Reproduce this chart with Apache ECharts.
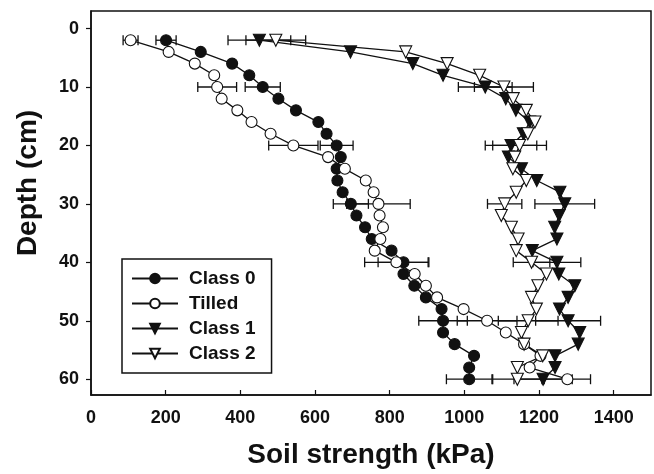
<!DOCTYPE html>
<html>
<head>
<meta charset="utf-8">
<script src="https://cdn.jsdelivr.net/npm/echarts@6/dist/echarts.min.js"></script>
<style>
html,body{margin:0;padding:0;background:#fff;}
#chart{width:654px;height:474px;}
</style>
</head>
<body>
<div id="chart"></div>
<script>
// Depth (cm) of each measurement
const depths = [2,4,6,8,10,12,14,16,18,20,22,24,26,28,30,32,34,36,38,40,42,44,46,48,50,52,54,56,58,60];
// Soil strength (kPa)
const class0 = [201,294,378,424,460,502,549,609,631,658,669,658,660,674,696,711,734,752,805,837,837,866,897,939,943,943,974,1026,1013,1013];
const tilled = [106,208,278,330,338,350,392,430,481,542,635,680,736,757,770,773,782,775,760,818,867,897,927,998,1061,1111,1160,1204,1175,1276];
const class1 = [451,695,862,943,1056,1111,1138,1175,1158,1125,1118,1153,1194,1256,1269,1254,1242,1248,1182,1248,1253,1296,1278,1255,1278,1309,1305,1243,1243,1211];
const class2 = [495,843,954,1041,1106,1131,1166,1189,1170,1148,1135,1130,1166,1139,1108,1099,1126,1144,1139,1180,1220,1197,1180,1193,1171,1153,1160,1210,1142,1142];
// Error bars (half widths, kPa) at these depths
const errDepths = [2,10,20,30,40,50,60];
const class0Err = [27,47,44,47,68,65,61];
const tilledErr = [20,52,66,85,85,80,62];
const class1Err = [84,72,69,80,64,87,78];
const class2Err = [80,79,72,46,49,80,66];
// Axis ticks
const xTicks = [0,200,400,600,800,1000,1200,1400];
const yTicks = [0,10,20,30,40,50,60];

const FONT = "'Liberation Sans', Arial, Helvetica, sans-serif";
const INK = '#111';

function pts(vals){ return vals.map((v,i)=>[v, depths[i]]); }
function errs(vals, e){ return errDepths.map((d,i)=>[vals[depths.indexOf(d)], d, e[i]]); }

function errSeries(vals, e){
  return {
    type: 'custom',
    data: errs(vals, e),
    z: 1,
    silent: true,
    renderItem: function(params, api){
      const c = api.value(0), d = api.value(1), h = api.value(2);
      const p1 = api.coord([c - h, d]);
      const p2 = api.coord([c + h, d]);
      const cap = 5;
      const st = {stroke: INK, lineWidth: 1.3};
      return {type:'group', children:[
        {type:'line', shape:{x1:p1[0],y1:p1[1],x2:p2[0],y2:p2[1]}, style:st},
        {type:'line', shape:{x1:p1[0],y1:p1[1]-cap,x2:p1[0],y2:p1[1]+cap}, style:st},
        {type:'line', shape:{x1:p2[0],y1:p2[1]-cap,x2:p2[0],y2:p2[1]+cap}, style:st}
      ]};
    }
  };
}

function lineSeries(name, vals, symbol, filled, size){
  return {
    name: name,
    type: 'line',
    data: pts(vals),
    z: 3,
    symbol: symbol,
    symbolSize: size,
    symbolRotate: symbol === 'triangle' ? 180 : 0,
    showAllSymbol: true,
    lineStyle: {color: INK, width: 1.3},
    itemStyle: {color: filled ? INK : '#fff', borderColor: INK, borderWidth: 1.1},
    emphasis: {disabled: true},
    animation: false
  };
}

const chart = echarts.init(document.getElementById('chart'), null, {renderer: 'canvas'});
chart.setOption({
  animation: false,
  backgroundColor: '#fff',
  grid: {left: 91, right: 3, top: 11, bottom: 78, show: true, borderColor: INK, borderWidth: 1.5, backgroundColor: 'transparent'},
  xAxis: {
    type: 'value', min: 0, max: 1500,
    name: 'Soil strength (kPa)', nameLocation: 'middle', nameGap: 46,
    nameTextStyle: {fontFamily: FONT, fontWeight: 'bold', fontSize: 28, color: INK},
    axisLine: {show: true, onZero: false, lineStyle: {color: INK, width: 1.5}},
    axisTick: {show: true, inside: true, length: 5, lineStyle: {color: INK, width: 1.2}, customValues: xTicks},
    axisLabel: {fontFamily: FONT, fontWeight: 'bold', fontSize: 18, color: INK, margin: 14, customValues: xTicks,
      formatter: function(v){ return String(v); }},
    splitLine: {show: false}
  },
  yAxis: {
    type: 'value', min: -3, max: 62.7, inverse: true,
    name: 'Depth (cm)', nameLocation: 'middle', nameGap: 49,
    nameTextStyle: {fontFamily: FONT, fontWeight: 'bold', fontSize: 28, color: INK, padding: [0,0,0,40]},
    axisLine: {show: true, onZero: false, lineStyle: {color: INK, width: 1.5}},
    axisTick: {show: true, inside: false, length: 5, lineStyle: {color: INK, width: 1.2}, customValues: yTicks},
    axisLabel: {fontFamily: FONT, fontWeight: 'bold', fontSize: 18, color: INK, margin: 12, customValues: yTicks,
      formatter: function(v){ return String(v); }},
    splitLine: {show: false}
  },
  legend: {
    orient: 'vertical', left: 122, top: 259,
    data: ['Class 0','Tilled','Class 1','Class 2'],
    itemWidth: 46, itemHeight: 12, itemGap: 6,
    padding: [10, 16, 10, 9],
    borderColor: INK, borderWidth: 1.5, backgroundColor: '#fff',
    textStyle: {fontFamily: FONT, fontWeight: 'bold', fontSize: 19, color: INK, padding: [0,0,0,6]},
    selectedMode: false
  },
  series: [
    errSeries(class0, class0Err),
    errSeries(tilled, tilledErr),
    errSeries(class1, class1Err),
    errSeries(class2, class2Err),
    lineSeries('Class 0', class0, 'circle', true, 11),
    lineSeries('Tilled', tilled, 'circle', false, 11),
    lineSeries('Class 1', class1, 'triangle', true, 12),
    lineSeries('Class 2', class2, 'triangle', false, 12)
  ]
});
</script>
</body>
</html>
